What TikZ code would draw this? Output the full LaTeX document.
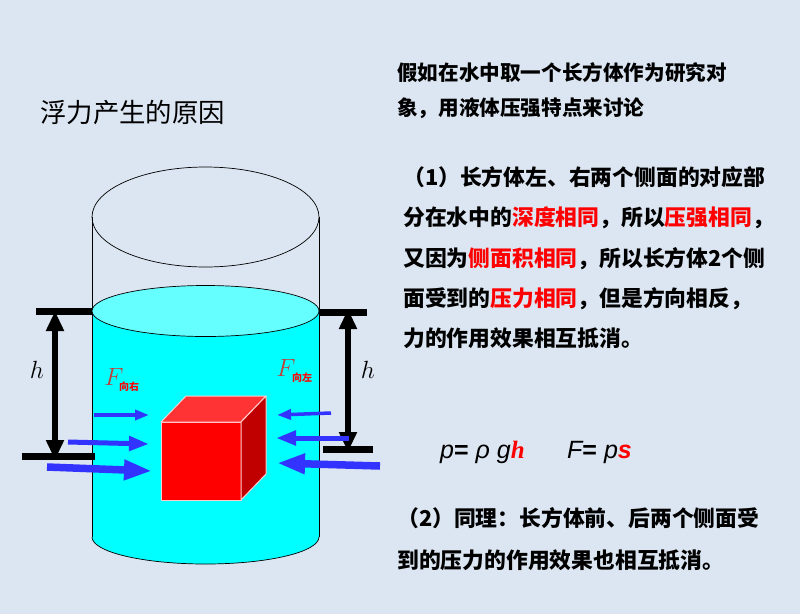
\documentclass[tikz,border=0pt]{standalone}
\usepackage{fontspec}
\usetikzlibrary{arrows.meta}
\newfontfamily\cjk{Noto Sans CJK SC}
\newfontfamily\arialf{Liberation Sans}
\newfontfamily\timesf{Liberation Serif}
\definecolor{bg}{HTML}{DCE6F2}
\definecolor{water}{HTML}{00FFFF}
\definecolor{surface}{HTML}{66FFFF}
\definecolor{push}{HTML}{3333FF}
\definecolor{flabel}{HTML}{C0403A}
\definecolor{cubetop}{HTML}{FF3333}
\definecolor{cubeside}{HTML}{C00000}
\definecolor{cubeedge}{HTML}{FFCCCC}
\tikzset{
	bar/.style={line width=7},
	depth/.style={line width=5.5,{Triangle[length=20,width=17]}-{Triangle[length=20,width=17]}},
	push1/.style={push,line width=3.5,-{Triangle[length=14,width=10]}},
	push2/.style={push,line width=5,-{Triangle[length=20,width=14]}},
	push3/.style={push,line width=7.5,-{Triangle[length=28,width=19]}},
	txt/.style={font=\cjk\bfseries\fontsize{21.8}{40.2}\selectfont,anchor=west,align=left,inner sep=0},
	face/.style={draw=cubeedge,line width=1,line join=round}
}
\begin{document}
\begin{tikzpicture}[x=1pt,y=-1pt]
	\fill[bg] (0,0) rectangle (800,614);

	\fill[water] (92,311) -- (92,537) arc[start angle=180,end angle=0,x radius=113.5,y radius=27] -- (319,311) -- cycle;
	\draw[line width=0.7] (92,537) arc[start angle=180,end angle=0,x radius=113.5,y radius=27];
	\draw[line width=0.7] (92,217) -- (92,537) (319,217) -- (319,537);
	\draw[line width=0.7] (205.5,217) ellipse[x radius=113.5,y radius=50];
	\filldraw[fill=surface,line width=0.7] (205.5,311) ellipse[x radius=113.5,y radius=25.5];

	\filldraw[face,fill=red] (161,422) rectangle (241,500);
	\filldraw[face,fill=cubetop] (161,422) -- (186,396) -- (266,396) -- (241,422) -- cycle;
	\filldraw[face,fill=cubeside] (241,422) -- (266,396) -- (266,474) -- (241,500) -- cycle;

	\draw[bar] (36,311) -- (92,311);
	\draw[bar] (22,456) -- (95,456);
	\draw[bar] (319,312) -- (367,312);
	\draw[bar] (323,449) -- (373,449);
	\coordinate (ltop) at (55,311);
	\coordinate (lbot) at (55,460);
	\coordinate (rtop) at (348,309);
	\coordinate (rbot) at (348,452);
	\draw[depth] (ltop) -- (lbot);
	\draw[depth] (rtop) -- (rbot);
	\node[font=\fontsize{28}{28}\selectfont] (hleft) at (37,370) {$h$};
	\node[font=\fontsize{28}{28}\selectfont] (hright) at (368,370) {$h$};

	\coordinate (la) at (94,415);
	\coordinate (lb) at (68,442);
	\coordinate (lc) at (47,467);
	\coordinate (la') at (149,415);
	\coordinate (lb') at (149,444);
	\coordinate (lc') at (152,471);
	\draw[push1] (la) -- (la');
	\draw[push2] (lb) -- (lb');
	\draw[push3] (lc) -- (lc');
	\coordinate (ra) at (331,413);
	\coordinate (rb) at (349,438);
	\coordinate (rc) at (380,466);
	\coordinate (ra') at (277,415);
	\coordinate (rb') at (276,438);
	\coordinate (rc') at (277,463);
	\draw[push1] (ra) -- (ra');
	\draw[push2] (rb) -- (rb');
	\draw[push3] (rc) -- (rc');

	\node[text=flabel,font=\fontsize{25}{25}\selectfont] (fright) at (114,377) {$F$};
	\node[text=red,font=\cjk\bfseries\fontsize{10}{10}\selectfont,anchor=west,inner sep=0] (fright') at (119,387) {向右};
	\node[text=flabel,font=\fontsize{25}{25}\selectfont] (fleft) at (286,368) {$F$};
	\node[text=red,font=\cjk\bfseries\fontsize{10}{10}\selectfont,anchor=west,inner sep=0] (fleft') at (292,378) {向左};

	\node[font=\cjk\fontsize{26.4}{26.4}\selectfont,anchor=west,inner sep=0] (title) at (40,113) {浮力产生的原因};
	\node[txt,font=\cjk\bfseries\fontsize{20.6}{35}\selectfont] (intro) at (397,90.5) {假如在水中取一个长方体作为研究对\\象，用液体压强特点来讨论};
	\node[txt] (part1) at (403,257.6) {（1）长方体左、右两个侧面的对应部\\分在水中的\textcolor{red}{深度相同}，所以\textcolor{red}{压强相同}，\\又因为\textcolor{red}{侧面积相同}，所以长方体2个侧\\面受到的\textcolor{red}{压力相同}，但是方向相反，\\力的作用效果相互抵消。};
	\node[font=\arialf\fontsize{25}{25}\selectfont,anchor=west,inner sep=0] (pformula) at (440,452) {\itshape p\upshape\bfseries=\mdseries\itshape\ ρ g\textcolor{red}{\timesf\bfseries\itshape h}};
	\node[font=\arialf\fontsize{25}{25}\selectfont,anchor=west,inner sep=0] (fformula) at (567,452) {\itshape F\upshape\bfseries=\mdseries\itshape\ p\textcolor{red}{\bfseries s}};
	\node[txt,font=\cjk\bfseries\fontsize{21.8}{42}\selectfont] (part2) at (397,539) {（2）同理：长方体前、后两个侧面受\\到的压力的作用效果也相互抵消。};
\end{tikzpicture}
\end{document}
